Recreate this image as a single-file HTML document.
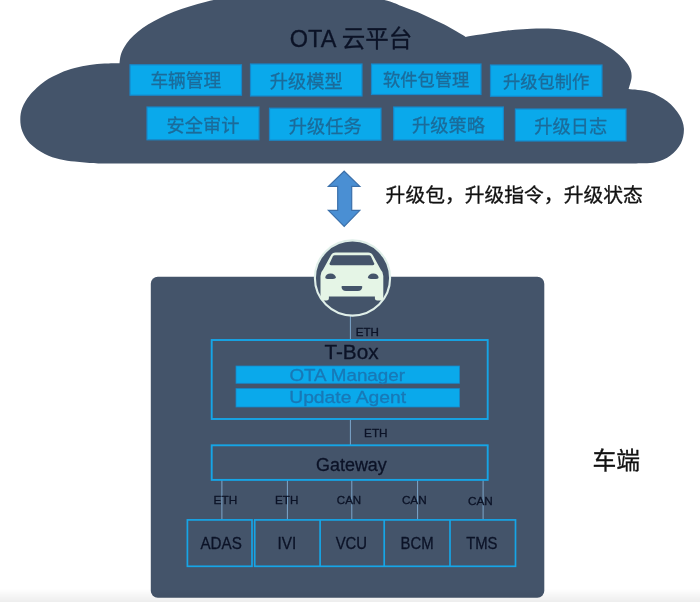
<!DOCTYPE html>
<html lang="zh"><head><meta charset="utf-8"><title>OTA</title>
<style>
html,body{margin:0;padding:0;background:#fff;}
body{width:700px;height:602px;overflow:hidden;}
svg{display:block;filter:blur(0.4px);}
.cj{font-family:"Liberation Sans","Noto Sans CJK SC",sans-serif;}
.la{font-family:"Liberation Sans","Noto Sans CJK SC",sans-serif;}
text{paint-order:stroke;stroke-width:0.3px;stroke-linejoin:round;}
</style></head><body>
<svg width="700" height="602" viewBox="0 0 700 602">
<path d="M105.0 163.5 C102.4 163.4 94.6 163.2 89.6 162.9 C84.5 162.6 79.7 162.2 74.7 161.6 C69.7 161.0 64.8 160.5 59.8 159.2 C54.8 157.9 49.8 156.5 44.8 153.9 C39.8 151.3 33.6 147.1 29.9 143.4 C26.2 139.7 24.0 135.5 22.4 131.5 C20.8 127.5 20.3 123.5 20.3 119.5 C20.3 115.5 20.8 111.7 22.4 107.6 C24.0 103.5 26.2 99.4 29.9 95.0 C33.6 90.6 39.8 84.9 44.8 81.3 C49.8 77.7 54.8 75.4 59.8 73.2 C64.8 71.0 69.7 69.4 74.7 68.1 C79.7 66.8 84.6 65.8 89.6 65.1 C94.6 64.3 99.6 63.9 104.6 63.6 C109.6 63.3 117.0 63.3 119.5 63.3 C119.7 62.1 119.9 58.0 120.7 55.3 C121.4 52.6 122.6 49.8 124.2 47.2 C125.7 44.5 127.6 41.9 129.9 39.3 C132.2 36.7 134.9 34.2 137.9 31.7 C140.9 29.2 144.3 26.8 148.0 24.5 C151.7 22.2 155.7 20.0 160.0 17.9 C164.3 15.7 169.0 13.7 173.9 11.8 C178.8 9.9 184.0 8.1 189.4 6.4 C194.8 4.7 200.5 3.1 206.3 1.7 C212.1 0.3 218.2 -1.0 224.4 -2.2 C230.6 -3.3 237.1 -4.3 243.5 -5.2 C250.0 -6.0 256.7 -6.7 263.4 -7.3 C270.1 -7.9 276.9 -8.3 283.7 -8.5 C290.5 -8.8 297.4 -8.8 304.3 -8.8 C311.1 -8.7 318.0 -8.5 324.7 -8.1 C331.5 -7.7 335.0 -7.9 344.9 -6.5 C354.8 -5.2 374.9 -2.1 384.3 0.0 C393.7 2.1 395.0 3.6 401.4 6.0 C407.8 8.4 415.8 11.3 422.9 14.4 C430.0 17.5 437.2 20.9 444.3 24.6 C451.4 28.4 462.1 34.9 465.7 36.9 C467.5 36.6 472.6 35.6 476.4 35.0 C480.2 34.4 484.7 33.8 488.6 33.2 C492.5 32.6 495.6 32.1 500.0 31.5 C504.4 30.9 509.8 30.3 515.0 29.8 C520.2 29.3 526.0 28.9 531.0 28.7 C536.0 28.5 540.2 28.4 545.0 28.5 C549.8 28.6 555.0 28.7 560.0 29.3 C565.0 29.9 570.2 30.8 575.0 32.0 C579.8 33.2 583.9 34.6 588.6 36.5 C593.3 38.4 598.3 40.8 603.0 43.5 C607.7 46.2 613.2 49.9 617.0 53.0 C620.8 56.1 623.7 59.2 626.0 62.0 C628.3 64.8 629.7 67.3 630.6 70.0 C631.5 72.7 631.8 74.8 631.5 78.0 C631.2 81.2 629.1 87.2 628.6 89.0 C632.1 89.5 643.0 89.9 649.5 92.0 C656.0 94.1 662.4 97.8 667.4 101.6 C672.4 105.4 676.6 110.5 679.4 115.0 C682.1 119.5 683.6 123.8 683.9 128.6 C684.1 133.3 683.1 139.0 680.9 143.5 C678.6 148.0 674.6 152.4 670.4 155.5 C666.2 158.6 661.5 161.0 655.5 162.3 C649.5 163.6 638.0 163.3 634.5 163.5 Z" fill="#44546a"/>
<rect x="130.0" y="64.8" width="111.5" height="30.4" fill="#0aa9eb" stroke="#1787c9" stroke-width="1.2"/>
<text x="185.8" y="86.8" font-size="17.7" fill="#1b6b9a" stroke="#1b6b9a" text-anchor="middle" class="cj">车辆管理</text>
<rect x="250.5" y="64.0" width="111.5" height="32.0" fill="#0aa9eb" stroke="#1787c9" stroke-width="1.2"/>
<text x="306.2" y="87.8" font-size="18.2" fill="#1b6b9a" stroke="#1b6b9a" text-anchor="middle" class="cj">升级模型</text>
<rect x="371.5" y="64.0" width="109.5" height="30.5" fill="#0aa9eb" stroke="#1787c9" stroke-width="1.2"/>
<text x="426.2" y="86.3" font-size="17.3" fill="#1b6b9a" stroke="#1b6b9a" text-anchor="middle" class="cj">软件包管理</text>
<rect x="490.5" y="65.0" width="111.5" height="31.3" fill="#0aa9eb" stroke="#1787c9" stroke-width="1.2"/>
<text x="546.2" y="87.5" font-size="17.3" fill="#1b6b9a" stroke="#1b6b9a" text-anchor="middle" class="cj">升级包制作</text>
<rect x="147.0" y="107.0" width="112.0" height="32.8" fill="#0aa9eb" stroke="#1787c9" stroke-width="1.2"/>
<text x="203.0" y="131.8" font-size="18.2" fill="#1b6b9a" stroke="#1b6b9a" text-anchor="middle" class="cj">安全审计</text>
<rect x="269.5" y="108.2" width="111.5" height="32.0" fill="#0aa9eb" stroke="#1787c9" stroke-width="1.2"/>
<text x="325.2" y="133.0" font-size="18.2" fill="#1b6b9a" stroke="#1b6b9a" text-anchor="middle" class="cj">升级任务</text>
<rect x="393.7" y="107.0" width="109.7" height="33.0" fill="#0aa9eb" stroke="#1787c9" stroke-width="1.2"/>
<text x="448.5" y="131.8" font-size="18.2" fill="#1b6b9a" stroke="#1b6b9a" text-anchor="middle" class="cj">升级策略</text>
<rect x="515.4" y="109.0" width="110.6" height="32.0" fill="#0aa9eb" stroke="#1787c9" stroke-width="1.2"/>
<text x="570.7" y="133.0" font-size="18.2" fill="#1b6b9a" stroke="#1b6b9a" text-anchor="middle" class="cj">升级日志</text>
<text x="351" y="47" font-size="23.5" fill="#0b1226" stroke="#0b1226" text-anchor="middle" class="cj">OTA 云平台</text>
<path d="M344.2 171.2 L359.8 186.4 L351.7 186.4 L351.7 210.3 L359.8 210.3 L344.2 226.4 L328.4 210.3 L337.7 210.3 L337.7 186.4 L328.4 186.4 Z" fill="#4a8fd3" stroke="#3b70aa" stroke-width="1.2" stroke-linejoin="miter"/>
<text x="385.6" y="202" font-size="19.8" fill="#111" stroke="#111" class="cj">升级包，升级指令，升级状态</text>
<rect x="150.8" y="276.7" width="393.5" height="321" rx="7" fill="#44546a"/>
<path d="M350.4 316 V340 M350.4 419 V445 M221.9 480 V520 M287.4 480 V520 M351.8 480 V520 M417.6 480 V520 M483.1 480 V520" stroke="#7da6cc" stroke-width="1" fill="none"/>
<circle cx="352.5" cy="278" r="37.6" fill="#44546a" stroke="#e0efe9" stroke-width="2.1"/>
<path d="M335.5 252.6 H368.3 Q371.5 252.6 373 255.5 L380.8 269.8 Q383.3 272 383.3 276 V298 Q383.3 300.6 381 300.6 H377.2 Q374.9 300.6 374.9 298.5 V296.4 H328.9 V298.5 Q328.9 300.6 326.6 300.6 H322.8 Q320.5 300.6 320.5 298 V276 Q320.5 272 323 269.8 L330.8 255.5 Q332.3 252.6 335.5 252.6 Z" fill="#e5f5e6"/><g fill="#44546a"><path d="M334.8 255.2 H369 Q370.4 255.2 371 256.5 L374.1 263.3 Q374.8 265.3 372.8 265.3 H331 Q329 265.3 329.7 263.3 L332.8 256.5 Q333.4 255.2 334.8 255.2 Z"/><path d="M325.2 277.2 Q326 273.6 330.6 273.4 Q335.2 273.6 336 277.6 Q335.6 279 333 279 H327.6 Q325 279 325.2 277.2 Z"/><path d="M 378.6 277.2 Q 377.8 273.6 373.2 273.4 Q 368.6 273.6 367.8 277.6 Q 368.2 279.0 370.8 279.0 H 376.2 Q 378.8 279.0 378.6 277.2 Z"/><path d="M342.4 286 H361.4 Q362.4 286 362.3 287 Q361.8 290.9 357.8 290.9 H346 Q342 290.9 341.5 287 Q341.4 286 342.4 286 Z"/></g>
<rect x="211.7" y="340" width="276" height="79" fill="none" stroke="#16a5e6" stroke-width="1.9"/>
<rect x="236" y="366" width="223.5" height="17.3" fill="#0aa9eb" stroke="#1787c9" stroke-width="0.8"/>
<rect x="236" y="388.6" width="223.5" height="18.4" fill="#0aa9eb" stroke="#1787c9" stroke-width="0.8"/>
<text x="324.4" y="359.0" font-size="19.6" fill="#0b1226" stroke="#0b1226" class="la" textLength="54.2" lengthAdjust="spacingAndGlyphs">T-Box</text>
<text x="289.4" y="380.6" font-size="16.8" fill="#1878b6" stroke="#1878b6" class="la" textLength="115.6" lengthAdjust="spacingAndGlyphs">OTA Manager</text>
<text x="289.2" y="402.6" font-size="16.8" fill="#1878b6" stroke="#1878b6" class="la" textLength="117.0" lengthAdjust="spacingAndGlyphs">Update Agent</text>
<text x="355.7" y="335.5" font-size="10.8" fill="#0b1226" stroke="#0b1226" class="la" textLength="23.2" lengthAdjust="spacingAndGlyphs">ETH</text>
<text x="364.1" y="437.0" font-size="10.8" fill="#0b1226" stroke="#0b1226" class="la" textLength="23.5" lengthAdjust="spacingAndGlyphs">ETH</text>
<rect x="211.7" y="445.3" width="276" height="34.6" fill="none" stroke="#16a5e6" stroke-width="1.9"/>
<text x="316.1" y="470.9" font-size="17.6" fill="#0b1226" stroke="#0b1226" class="la" textLength="70.7" lengthAdjust="spacingAndGlyphs">Gateway</text>
<text x="213.6" y="503.7" font-size="11.4" fill="#0b1226" stroke="#0b1226" class="la" textLength="23.6" lengthAdjust="spacingAndGlyphs">ETH</text>
<text x="275.1" y="503.7" font-size="11.4" fill="#0b1226" stroke="#0b1226" class="la" textLength="23.3" lengthAdjust="spacingAndGlyphs">ETH</text>
<text x="336.8" y="503.7" font-size="11.4" fill="#0b1226" stroke="#0b1226" class="la" textLength="24.4" lengthAdjust="spacingAndGlyphs">CAN</text>
<text x="401.9" y="504.4" font-size="11.4" fill="#0b1226" stroke="#0b1226" class="la" textLength="24.8" lengthAdjust="spacingAndGlyphs">CAN</text>
<text x="468.0" y="505.2" font-size="11.4" fill="#0b1226" stroke="#0b1226" class="la" textLength="24.8" lengthAdjust="spacingAndGlyphs">CAN</text>
<rect x="187.4" y="519.9" width="64.6" height="46.4" fill="none" stroke="#16a5e6" stroke-width="1.7"/>
<rect x="254.7" y="519.9" width="260.8" height="46.4" fill="none" stroke="#16a5e6" stroke-width="1.7"/>
<path d="M320.1 519.9 V566.3 M384.2 519.9 V566.3 M450 519.9 V566.3" stroke="#16a5e6" stroke-width="1.7"/>
<text x="200.5" y="548.9" font-size="16.5" fill="#0b1226" stroke="#0b1226" class="la" textLength="41.3" lengthAdjust="spacingAndGlyphs">ADAS</text>
<text x="277.6" y="548.9" font-size="16.5" fill="#0b1226" stroke="#0b1226" class="la" textLength="18.7" lengthAdjust="spacingAndGlyphs">IVI</text>
<text x="335.7" y="548.9" font-size="16.5" fill="#0b1226" stroke="#0b1226" class="la" textLength="31.4" lengthAdjust="spacingAndGlyphs">VCU</text>
<text x="400.6" y="548.9" font-size="16.5" fill="#0b1226" stroke="#0b1226" class="la" textLength="33.1" lengthAdjust="spacingAndGlyphs">BCM</text>
<text x="466.2" y="548.9" font-size="16.5" fill="#0b1226" stroke="#0b1226" class="la" textLength="31.3" lengthAdjust="spacingAndGlyphs">TMS</text>
<text x="592.4" y="469.3" font-size="23.8" fill="#111" stroke="#111" class="cj">车端</text>
<defs><linearGradient id="bg" x1="0" y1="0" x2="0" y2="1"><stop offset="0" stop-color="#000" stop-opacity="0"/><stop offset="1" stop-color="#000" stop-opacity="0.07"/></linearGradient></defs><rect x="0" y="589" width="700" height="13" fill="url(#bg)"/>
</svg>
</body></html>
